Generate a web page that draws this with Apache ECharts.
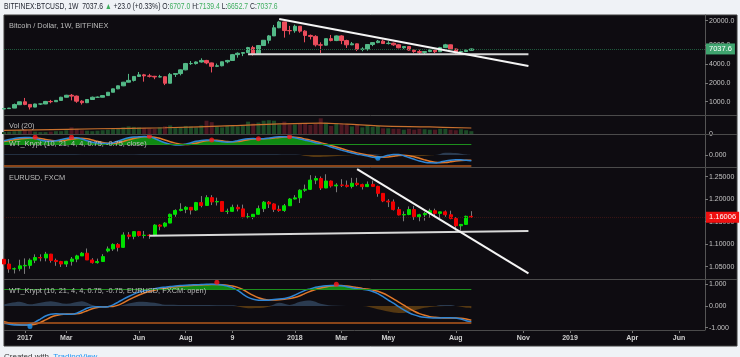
<!DOCTYPE html>
<html><head><meta charset="utf-8">
<script src="https://cdn.jsdelivr.net/npm/echarts@6/dist/echarts.min.js"></script>
<style>html,body{margin:0;padding:0;background:#eff2f6;overflow:hidden}#c{width:740px;height:357px}</style>
</head><body><div id="c"></div>
<script>
// ---------- DATA ----------
const weekStart = Date.UTC(2016, 11, 5);   // first weekly bar (Mon 5 Dec 2016)
const weekCount = 136;                      // weeks shown on the time axis (incl. empty future)
const xTickIndex = [4, 12, 26, 35, 44, 56, 65, 74, 87, 100, 109, 121, 130];
const xTickText  = ['2017','Mar','Jun','Aug','9','2018','Mar','May','Aug','Nov','2019','Apr','Jun'];

// BTCUSD weekly [open, high, low, close]
const btcOHLC = [
[765,780,755,775],[775,795,765,790],[790,935,788,900],[895,1000,885,998],[998,1150,880,905],
[905,915,750,820],[820,930,815,920],[920,925,885,920],[920,1030,915,1010],[1010,1070,945,1000],
[1000,1060,990,1050],[1050,1200,1050,1180],[1180,1290,1170,1270],[1270,1330,1050,1230],[1230,1260,960,1020],
[1020,1060,900,965],[965,1100,950,1085],[1085,1210,1080,1180],[1180,1215,1160,1180],[1180,1260,1170,1255],
[1255,1430,1250,1420],[1420,1620,1420,1610],[1610,1820,1590,1800],[1800,2080,1780,2060],[2060,2800,2040,2200],
[2200,2560,2110,2550],[2550,3000,2500,2700],[2700,2800,2100,2600],[2600,2800,2450,2560],[2560,2600,2300,2500],
[2500,2700,2460,2520],[2520,2550,1850,1980],[1980,2900,1980,2750],[2750,2850,2500,2830],[2830,3300,2650,3250],
[3250,4200,3200,4100],[4100,4500,3900,4100],[4100,4450,3950,4350],[4350,4980,4250,4600],[4600,4700,4000,4200],
[4200,4250,2950,3700],[3700,4100,3600,3780],[3780,4400,3700,4380],[4380,4700,4150,4600],[4600,5850,4580,5700],
[5700,6200,5100,6000],[6000,6200,5400,6150],[6150,7600,6100,7400],[7400,7900,5500,5900],[5900,8100,5850,8000],
[8000,9800,7900,9700],[9700,11800,8600,11400],[11400,17100,11400,15400],[15400,19900,15200,19100],[19100,19200,10700,13900],
[13900,16500,12000,13800],[13800,17300,12800,16300],[16300,16400,12800,13600],[13600,14100,9000,11600],[11600,12000,10000,11200],
[11200,11700,7700,8200],[8200,9000,6000,8100],[8100,10300,8000,10300],[10300,11800,9300,9600],[9600,11600,9400,11400],
[11400,11700,8400,9600],[9600,9900,7300,8200],[8200,9100,8100,8500],[8500,8600,6500,6950],[6950,7500,6450,7000],
[7000,8300,6600,8300],[8300,9000,7800,8900],[8900,9800,8700,9400],[9400,9950,8550,8600],[8600,9400,8300,8700],
[8700,8900,7900,8200],[8200,8400,7200,7350],[7350,7800,7050,7700],[7700,7800,6600,6750],[6750,6850,6100,6400],
[6400,6850,5750,6200],[6200,6500,5800,6400],[6400,6850,6250,6750],[6750,6800,6050,6350],[6350,7600,6300,7400],
[7400,8500,7350,8200],[8200,8300,6900,7030],[7030,7150,5900,6300],[6300,6600,5900,6400],[6400,6900,6250,6700],
[6707.0,7139.4,6652.7,7037.6]
];
// BTC weekly volume (thousand BTC)
const btcVolume = [
20,25,30,40,50,35,25,20,20,25, 30,30,40,70,55,40,35,30,35,40,
45,50,55,70,80,75,70,65,60,55, 70,80,90,70,75,85,80,70,90,140,
125,80,70,85,95,80,90,130,110,120, 140,145,140,100,130,100,100,115,105,95,
105,165,120,85,115,110,100,80,95,70, 95,75,85,60,60,55,55,45,55,45,
55,50,45,45,55,55,45,40,50,40, 30
];
// Vol(20) average line, read at a few points [week, value]
const btcVolMA = [[0,38],[18,55],[31,66],[44,88],[53,106],[61,114],[66,104],[72,86],[82,74],[90,63]];

// WT_Krypt on BTC: wave (blue) and signal (orange)
const btcWave = [
1.00,1.08,1.15,1.20,1.22,1.22,1.15,1.05,0.98,0.96,
1.00,1.08,1.16,1.20,1.20,1.12,1.00,0.90,0.84,0.80,
0.80,0.86,0.98,1.10,1.20,1.26,1.27,1.29,1.28,1.16,
1.00,0.86,0.76,0.70,0.70,0.76,0.86,0.96,1.02,1.05,
1.04,0.98,0.92,0.90,0.92,1.00,1.08,1.13,1.15,1.14,
1.14,1.18,1.24,1.27,1.28,1.26,1.20,1.12,1.04,0.96,
0.86,0.78,0.68,0.56,0.45,0.34,0.24,0.14,0.06,0.00,
-0.07,-0.15,-0.20,-0.12,-0.02,0.04,0.04,-0.05,-0.18,-0.30,
-0.42,-0.50,-0.55,-0.56,-0.50,-0.42,-0.36,-0.33,-0.34,-0.37,-0.40
];
const btcSignal = [
0.95,1.00,1.06,1.12,1.16,1.19,1.20,1.16,1.09,1.03,
0.99,0.99,1.04,1.10,1.16,1.17,1.13,1.05,0.96,0.88,
0.83,0.82,0.86,0.95,1.06,1.16,1.23,1.27,1.28,1.25,
1.17,1.05,0.93,0.83,0.76,0.73,0.76,0.83,0.92,1.00,
1.04,1.03,0.99,0.94,0.92,0.94,1.00,1.07,1.12,1.14,
1.14,1.15,1.19,1.23,1.26,1.27,1.25,1.20,1.12,1.04,
0.95,0.86,0.77,0.67,0.56,0.45,0.34,0.24,0.15,0.07,
0.00,-0.06,-0.12,-0.15,-0.14,-0.09,-0.04,-0.02,-0.05,-0.12,
-0.23,-0.34,-0.44,-0.51,-0.54,-0.53,-0.48,-0.42,-0.38,-0.36,-0.37
];
const btcHistPos = [[0,0.05],[10,0.06],[20,0.04],[30,0.06],[40,0.05],[50,0.05],[57,0.02],[58,0],[69,0],[71,0.05],[73,0],[83,0],[85,0.16],[87,0.14],[89,0.03],[90,0]];
const btcHistNeg = [[57,0],[60,-0.14],[62,-0.12],[65,-0.06],[69,0],[73,0],[76,-0.05],[80,-0.08],[83,0]];
const btcTopDots = [[6,1.24],[13,1.24],[28,1.31],[40,1.05],[49,1.14],[55,1.28]];
const btcBottomDots = [[72,-0.23]];

// EURUSD weekly [open, high, low, close]
const eurOHLC = [
[1.0665,1.0875,1.0505,1.0560],[1.0560,1.0670,1.0365,1.0450],[1.0450,1.0480,1.0350,1.0455],[1.0455,1.0655,1.0400,1.0520],[1.0520,1.0685,1.0340,1.0530],
[1.0530,1.0685,1.0455,1.0645],[1.0645,1.0775,1.0580,1.0705],[1.0705,1.0775,1.0620,1.0695],[1.0695,1.0830,1.0620,1.0780],[1.0780,1.0785,1.0590,1.0640],
[1.0640,1.0680,1.0520,1.0615],[1.0615,1.0630,1.0495,1.0560],[1.0560,1.0630,1.0495,1.0620],[1.0620,1.0715,1.0525,1.0670],[1.0670,1.0765,1.0600,1.0740],
[1.0740,1.0825,1.0740,1.0800],[1.0800,1.0905,1.0650,1.0650],[1.0650,1.0690,1.0570,1.0590],[1.0590,1.0680,1.0570,1.0615],[1.0615,1.0780,1.0605,1.0725],
[1.0850,1.0950,1.0820,1.0895],[1.0895,1.1020,1.0850,1.0995],[1.0995,1.1025,1.0840,1.0930],[1.0930,1.1265,1.0925,1.1205],[1.1205,1.1270,1.1110,1.1175],
[1.1175,1.1285,1.1110,1.1280],[1.1280,1.1295,1.1170,1.1195],[1.1195,1.1295,1.1130,1.1200],[1.1200,1.1225,1.1120,1.1195],[1.1195,1.1445,1.1180,1.1425],
[1.1425,1.1445,1.1310,1.1400],[1.1400,1.1490,1.1370,1.1470],[1.1470,1.1680,1.1470,1.1665],[1.1665,1.1775,1.1610,1.1750],[1.1750,1.1910,1.1730,1.1775],
[1.1775,1.1845,1.1690,1.1820],[1.1820,1.1825,1.1660,1.1760],[1.1760,1.1940,1.1740,1.1925],[1.1925,1.2070,1.1820,1.1860],[1.1860,1.2090,1.1860,1.2035],
[1.2035,1.2090,1.1870,1.1940],[1.1940,1.2035,1.1860,1.1950],[1.1950,1.1960,1.1720,1.1730],[1.1730,1.1790,1.1670,1.1730],[1.1730,1.1880,1.1730,1.1820],
[1.1820,1.1880,1.1730,1.1785],[1.1785,1.1880,1.1575,1.1610],[1.1610,1.1690,1.1575,1.1610],[1.1610,1.1670,1.1555,1.1665],[1.1665,1.1860,1.1660,1.1790],
[1.1790,1.1960,1.1715,1.1935],[1.1935,1.1960,1.1805,1.1895],[1.1895,1.1910,1.1715,1.1775],[1.1775,1.1860,1.1720,1.1750],[1.1750,1.1895,1.1720,1.1855],
[1.1855,1.2025,1.1850,1.2005],[1.2005,1.2090,1.1995,1.2030],[1.2030,1.2220,1.1915,1.2200],[1.2200,1.2325,1.2165,1.2220],[1.2220,1.2535,1.2205,1.2425],
[1.2425,1.2520,1.2335,1.2460],[1.2460,1.2505,1.2205,1.2250],[1.2250,1.2555,1.2245,1.2405],[1.2405,1.2415,1.2260,1.2295],[1.2295,1.2355,1.2155,1.2315],
[1.2315,1.2445,1.2270,1.2310],[1.2310,1.2415,1.2260,1.2285],[1.2285,1.2475,1.2240,1.2355],[1.2355,1.2475,1.2290,1.2325],[1.2325,1.2345,1.2215,1.2280],
[1.2280,1.2395,1.2270,1.2330],[1.2330,1.2415,1.2280,1.2285],[1.2285,1.2300,1.2055,1.2130],[1.2130,1.2130,1.1935,1.1960],[1.1960,1.2000,1.1825,1.1940],
[1.1940,1.1995,1.1750,1.1770],[1.1770,1.1830,1.1640,1.1650],[1.1650,1.1730,1.1510,1.1660],[1.1660,1.1840,1.1645,1.1770],[1.1770,1.1850,1.1540,1.1610],
[1.1610,1.1675,1.1510,1.1655],[1.1655,1.1720,1.1525,1.1685],[1.1685,1.1790,1.1590,1.1745],[1.1745,1.1790,1.1610,1.1685],[1.1685,1.1720,1.1575,1.1720],
[1.1720,1.1750,1.1610,1.1655],[1.1655,1.1745,1.1555,1.1570],[1.1570,1.1600,1.1300,1.1410],[1.1410,1.1445,1.1300,1.1440],[1.1440,1.1635,1.1430,1.1620],
[1.1620,1.1735,1.1590,1.16006]
];
// WT_Krypt on EURUSD
const eurWave = [
-0.80,-0.84,-0.87,-0.88,-0.88,-0.84,-0.74,-0.60,-0.46,-0.38,
-0.36,-0.37,-0.38,-0.38,-0.33,-0.22,-0.10,-0.04,-0.03,-0.04,
-0.03,0.05,0.18,0.32,0.44,0.55,0.64,0.70,0.75,0.80,
0.84,0.87,0.90,0.92,0.94,0.96,0.97,0.98,0.99,1.00,
1.00,0.99,0.97,0.92,0.85,0.72,0.55,0.40,0.31,0.27,
0.26,0.27,0.30,0.32,0.35,0.40,0.50,0.62,0.72,0.79,
0.86,0.90,0.93,0.95,0.95,0.93,0.89,0.84,0.80,0.77,
0.74,0.67,0.57,0.43,0.27,0.13,-0.03,-0.18,-0.31,-0.41,
-0.48,-0.52,-0.54,-0.55,-0.55,-0.54,-0.54,-0.55,-0.60,-0.68,-0.73
];
const eurSignal = [
-0.72,-0.78,-0.83,-0.86,-0.87,-0.87,-0.84,-0.76,-0.64,-0.52,
-0.44,-0.39,-0.37,-0.37,-0.36,-0.31,-0.22,-0.13,-0.07,-0.04,
-0.03,-0.02,0.04,0.15,0.28,0.40,0.51,0.60,0.67,0.73,
0.78,0.82,0.86,0.89,0.91,0.93,0.95,0.96,0.97,0.98,
0.99,0.99,0.98,0.96,0.92,0.86,0.76,0.62,0.49,0.38,
0.31,0.28,0.28,0.29,0.31,0.34,0.39,0.47,0.58,0.68,
0.76,0.83,0.88,0.92,0.94,0.94,0.92,0.89,0.85,0.81,
0.78,0.74,0.68,0.59,0.47,0.33,0.18,0.04,-0.11,-0.24,
-0.35,-0.43,-0.49,-0.52,-0.54,-0.55,-0.55,-0.55,-0.56,-0.60,-0.66
];
const eurHistPos = [[0,0.08],[3,0.2],[5,0.08],[9,0.22],[12,0.1],[15,0.22],[17,0.05],[18,0],[22,0],[24,0.12],[26,0.2],[29,0.15],[31,0.06],[38,0.05],[44,0.03],[45,0],[51,0],[53,0.15],[55,0.05],[57,0.2],[59,0.25],[61,0.1],[63,0.02],[69,0],[83,0],[84,0.05],[86,0.05],[87,0]];
const eurHistNeg = [[17,0],[19,-0.05],[21,0],[44,0],[47,-0.1],[50,-0.08],[52,0],[69,0],[72,-0.15],[75,-0.3],[77,-0.32],[79,-0.2],[81,-0.08],[83,-0.02],[87,0],[89,-0.08],[90,-0.1]];
const eurTopDots = [[41,1.09],[64,1.0]];
const eurBottomDots = [[5,-0.95]];

// drawn trend lines [week, price]
const btcTrendDown = [[53,21300],[101,3750]];
const btcSupport   = [[47,5780],[101,5780]];
const eurTrendDown = [[68,1.267],[101,1.0353]];
const eurSupport   = [[28,1.119],[101,1.1295]];

// price-scale ticks and ranges
const btcTicks = [1000, 2000, 4000, 8000, 20000];
const btcRange = [612, 24700];
const volRange = [0, 200];
const wt1Range = [-0.84, 1.47];
const eurTicks = [1.05, 1.10, 1.15, 1.20, 1.25];
const eurRange = [1.0227, 1.2716];
const wt2Range = [-1.106, 1.245];
const wtLevels = [0.75, -0.75];
const btcLast = 7037.6, eurLast = 1.16006;

// ---------- CHART ----------
const FONT = '"Liberation Sans", Arial, sans-serif';
const categories = [];
for (let i = 0; i < weekCount; i++) categories.push(new Date(weekStart + i * 7 * 86400000).toISOString().slice(0, 10));
const tickAt = {};
xTickIndex.forEach((k, i) => tickAt[k] = xTickText[i]);
const lastIdx = btcOHLC.length - 1;

const UP = '#53b987', DN = '#eb4d5c';
const BLUE = '#2f86d6', ORANGE = '#e0782a', GREENFILL = '#0f8a12', GREENLVL = '#1d8f1d', ORLVL = '#b4581c';
const SLATE = '#2b3b50', BROWN = '#553812';

function xAx(g, labels) {
  return {
    type: 'category', gridIndex: g, data: categories, boundaryGap: false,
    axisLine: { show: false, onZero: false }, splitLine: { show: false },
    axisTick: labels ? { show: true, interval: (i) => (i in tickAt), length: 3, lineStyle: { color: '#777' } } : { show: false },
    axisLabel: labels ? { show: true, interval: (i) => (i in tickAt), formatter: (v, i) => tickAt[i] || '',
      color: '#d0d0d0', fontSize: 7, fontWeight: 'bold', margin: 5, fontFamily: FONT } : { show: false }
  };
}
function yLab(g, range, ticks, fmt) {
  return {
    type: 'value', gridIndex: g, position: 'right', min: range[0], max: range[1],
    axisLine: { show: true, lineStyle: { color: '#555', width: 1 } },
    axisTick: { show: true, customValues: ticks, length: 3, lineStyle: { color: '#777' } },
    axisLabel: { customValues: ticks, formatter: fmt, color: '#c4c4c4', fontSize: 7, margin: 4, fontFamily: FONT },
    splitLine: { show: false }
  };
}
const f3 = v => v.toFixed(3);

function levelMarks(color0, color1) {
  return {
    silent: true, symbol: ['none', 'none'], label: { show: false },
    data: [
      [{ coord: [0, wtLevels[0]], lineStyle: { color: color0, width: 1.2, type: 'solid' } }, { coord: [lastIdx, wtLevels[0]] }],
      [{ coord: [0, wtLevels[1]], lineStyle: { color: color1, width: 1.5, type: 'solid' } }, { coord: [lastIdx, wtLevels[1]] }]
    ]
  };
}
function wtSeries(xi, yi, wave, signal, histPos, histNeg, top, bottom) {
  return [
    { type: 'line', xAxisIndex: xi, yAxisIndex: yi, data: wave.map(v => Math.max(v, wtLevels[0])), symbol: 'none',
      lineStyle: { width: 0 }, areaStyle: { color: GREENFILL, opacity: 1, origin: wtLevels[0] }, silent: true, z: 2 },
    { type: 'line', xAxisIndex: xi, yAxisIndex: yi, data: histPos, symbol: 'none', smooth: 0.3,
      lineStyle: { width: 0 }, areaStyle: { color: SLATE, opacity: 1, origin: 0 }, silent: true, z: 2 },
    { type: 'line', xAxisIndex: xi, yAxisIndex: yi, data: histNeg, symbol: 'none', smooth: 0.3,
      lineStyle: { width: 0 }, areaStyle: { color: BROWN, opacity: 1, origin: 0 }, silent: true, z: 2 },
    { type: 'line', xAxisIndex: xi, yAxisIndex: yi, data: signal, symbol: 'none', smooth: 0.3,
      lineStyle: { color: ORANGE, width: 1.5 }, silent: true, z: 3, markLine: levelMarks(GREENLVL, ORLVL) },
    { type: 'line', xAxisIndex: xi, yAxisIndex: yi, data: wave, symbol: 'none', smooth: 0.3,
      lineStyle: { color: BLUE, width: 1.5 }, silent: true, z: 4 },
    { type: 'scatter', xAxisIndex: xi, yAxisIndex: yi, data: top, symbolSize: 5, itemStyle: { color: '#ff1a1a' }, silent: true, z: 5 },
    { type: 'scatter', xAxisIndex: xi, yAxisIndex: yi, data: bottom, symbolSize: 5, itemStyle: { color: '#2196f3' }, silent: true, z: 5 }
  ];
}
function tag(value, text, bg, lineColor) {
  return {
    silent: true, symbol: ['none', 'none'],
    data: [{ yAxis: value }],
    lineStyle: { color: lineColor, type: 'dotted', width: 1 },
    label: { show: true, position: 'end', distance: 1, formatter: text, color: '#fff', backgroundColor: bg,
      fontSize: 7.5, fontFamily: FONT, padding: [2, 3, 1, 3] }
  };
}
function trend(xi, yi, pts, color) {
  return { type: 'line', xAxisIndex: xi, yAxisIndex: yi, data: pts, symbol: 'none', silent: true,
    lineStyle: { color: color, width: 2 }, z: 6 };
}

const series = [
  { type: 'candlestick', xAxisIndex: 0, yAxisIndex: 0, barWidth: 4, silent: true,
    data: btcOHLC.map(r => [r[0], r[3], r[2], r[1]]),
    itemStyle: { color: UP, color0: DN, borderColor: UP, borderColor0: DN, borderWidth: 1 },
    markLine: tag(btcLast, btcLast.toFixed(1), '#3fa46f', '#1f5a3d') },
  trend(0, 0, btcSupport, '#d8d8d8'),
  trend(0, 0, btcTrendDown, '#f4f4f4'),
  { type: 'bar', xAxisIndex: 1, yAxisIndex: 2, barWidth: 4, silent: true,
    data: btcVolume.map((v, i) => ({ value: v, itemStyle: { color: btcOHLC[i][3] >= btcOHLC[i][0] ? '#1c4a27' : '#4d1822' } })) },
  { type: 'line', xAxisIndex: 1, yAxisIndex: 2, data: btcVolMA, symbol: 'none', smooth: 0.4, silent: true,
    lineStyle: { color: '#c8702e', width: 1.2 } },
  ...wtSeries(2, 3, btcWave, btcSignal, btcHistPos, btcHistNeg, btcTopDots, btcBottomDots),
  { type: 'candlestick', xAxisIndex: 3, yAxisIndex: 4, barWidth: 1, silent: true,
    data: eurOHLC.map(r => [r[0], r[3], r[2], r[1]]),
    itemStyle: { color: '#7a7a7a', color0: '#7a7a7a', borderColor: '#7a7a7a', borderColor0: '#7a7a7a', borderWidth: 1 } },
  { type: 'candlestick', xAxisIndex: 3, yAxisIndex: 4, barWidth: 3.5, silent: true,
    data: eurOHLC.map(r => [r[0], r[3], Math.min(r[0], r[3]), Math.max(r[0], r[3])]),
    itemStyle: { color: '#00e000', color0: '#f00000', borderColor: '#00e000', borderColor0: '#f00000', borderWidth: 1 },
    markLine: tag(eurLast, eurLast.toFixed(5), '#f01010', '#3a1414') },
  trend(3, 4, eurSupport, '#d8d8d8'),
  trend(3, 4, eurTrendDown, '#f4f4f4'),
  ...wtSeries(4, 5, eurWave, eurSignal, eurHistPos, eurHistNeg, eurTopDots, eurBottomDots)
];

const sep = (y, x2) => ({ type: 'line', z: 50, silent: true, shape: { x1: 4, y1: y, x2: x2, y2: y }, style: { stroke: '#4b4b4b', lineWidth: 1 } });
const title = (t, y) => ({ type: 'text', x: 9, y: y, z: 60, silent: true,
  style: { text: t, fill: '#bcbcbc', font: '7.4px ' + FONT, verticalAlign: 'middle' } });

const G = '#3fae5f';
const option = {
  animation: false,
  backgroundColor: '#eff2f6',
  grid: [
    { left: 4, right: 35, top: 15, height: 100 },
    { left: 4, right: 35, top: 115, height: 19 },
    { left: 4, right: 35, top: 134, height: 33 },
    { left: 4, right: 35, top: 167, height: 112 },
    { left: 4, right: 35, top: 279, height: 51 }
  ],
  xAxis: [xAx(0, false), xAx(1, false), xAx(2, false), xAx(3, false), xAx(4, true)],
  yAxis: [
    { type: 'log', gridIndex: 0, min: btcRange[0], max: btcRange[1], show: false, splitLine: { show: false } },
    yLab(0, btcRange.map(Math.log10), btcTicks.map(Math.log10), v => Math.pow(10, v).toFixed(1)),
    yLab(1, volRange, [0], () => '0'),
    yLab(2, wt1Range, [0], f3),
    yLab(3, eurRange, eurTicks, v => v.toFixed(5)),
    yLab(4, wt2Range, [-1, 0, 1], f3)
  ],
  series: series,
  graphic: [
    { type: 'rect', z: -10, silent: true, shape: { x: 4, y: 15, width: 733, height: 331 },
      style: { fill: '#0e0c11', stroke: '#3c3c3c', lineWidth: 1 } },
    sep(115.5, 737), sep(134.5, 737), sep(167.5, 737), sep(279.5, 737), sep(330.5, 705),
    { type: 'text', x: 4, y: 7, z: 60, scaleX: 0.8, silent: true,
      style: {
        text: '{d|BITFINEX:BTCUSD, 1W  7037.6 }{g|\u25B2}{d| +23.0 (+0.33%) O:}{g|6707.0}{d| H:}{g|7139.4}{d| L:}{g|6652.7}{d| C:}{g|7037.6}',
        font: '8.5px ' + FONT, verticalAlign: 'middle',
        rich: { d: { fill: '#1e222d', font: '8.5px ' + FONT }, g: { fill: G, font: '8.5px ' + FONT } }
      } },
    title('Bitcoin / Dollar, 1W, BITFINEX', 25.5),
    title('Vol (20)', 125.5),
    title('WT_Krypt (10, 21, 4, 4, 0.75, -0.75, close)', 144),
    title('EURUSD, FXCM', 178),
    title('WT_Krypt (10, 21, 4, 4, 0.75, -0.75, EURUSD, FXCM: open)', 290.5),
    { type: 'text', x: 4, y: 353, z: 60, silent: true,
      style: { text: '{d|Created with}  {b|TradingView}', font: '8px ' + FONT, verticalAlign: 'top',
        rich: { d: { fill: '#333', font: '8px ' + FONT }, b: { fill: '#2196f3', font: '8px ' + FONT } } } }
  ]
};
const chart = echarts.init(document.getElementById('c'), null, { renderer: 'canvas' });
chart.setOption(option);
</script></body></html>
